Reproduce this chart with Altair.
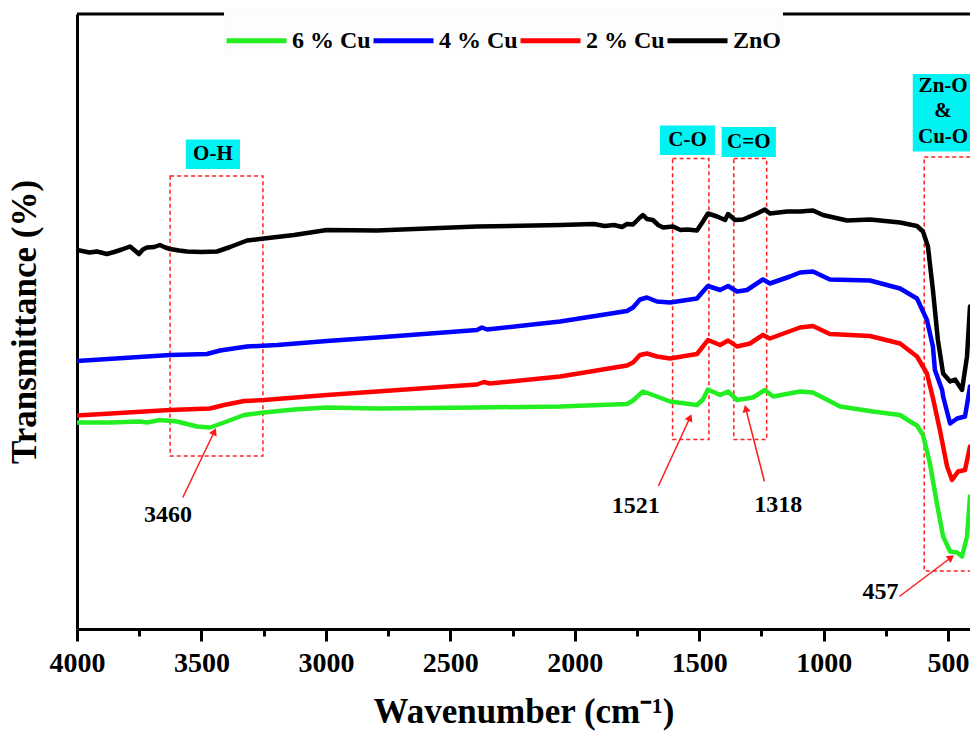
import altair as alt
import pandas as pd

SERIES = ["6 % Cu", "4 % Cu", "2 % Cu", "ZnO"]
COLORS = ["#22ee22", "#0000ff", "#ff0000", "#000000"]

# (wavenumber cm-1, transmittance a.u.)
zno = [(4000, 75.8), (3950, 75.3), (3920, 75.5), (3880, 75.0), (3851, 75.4), (3820, 75.9),
       (3787, 76.5), (3765, 75.6), (3751, 75.0), (3735, 75.9), (3719, 76.3), (3690, 76.4),
       (3667, 76.8), (3645, 76.3), (3626, 76.0), (3590, 75.7), (3558, 75.5), (3500, 75.4),
       (3437, 75.5), (3385, 76.4), (3317, 77.7), (3249, 78.1), (3128, 78.8), (2996, 79.8),
       (2795, 79.7), (2393, 80.5), (2059, 80.8), (1923, 81.0), (1880, 80.6), (1842, 80.8),
       (1810, 80.4), (1790, 81.0), (1766, 80.9), (1740, 82.2), (1726, 82.8), (1710, 82.0),
       (1686, 81.8), (1665, 80.8), (1645, 80.3), (1605, 80.5), (1575, 79.8), (1549, 79.9),
       (1509, 79.7), (1485, 81.5), (1465, 83.1), (1428, 82.5), (1396, 81.8), (1384, 83.0),
       (1356, 81.8), (1324, 81.9), (1268, 83.1), (1236, 83.9), (1216, 83.1), (1147, 83.5),
       (1095, 83.5), (1043, 83.7), (1003, 82.8), (906, 81.7), (814, 81.9), (693, 81.3),
       (625, 80.6), (601, 79.5), (581, 76.5), (561, 67.8), (541, 57.8), (520, 51.1),
       (492, 49.5), (472, 49.9), (444, 47.8), (424, 54.5), (412, 64.5)]

cu4 = [(4000, 53.6), (3626, 54.8), (3478, 55.0), (3425, 55.7), (3317, 56.5), (3196, 56.8),
       (2996, 57.6), (2795, 58.3), (2393, 59.8), (2373, 60.3), (2353, 59.9), (2059, 61.5),
       (1790, 63.6), (1766, 64.3), (1738, 65.9), (1710, 66.3), (1670, 65.5), (1617, 65.3),
       (1509, 66.1), (1485, 67.5), (1465, 68.6), (1416, 67.8), (1384, 68.6), (1348, 67.5),
       (1308, 67.8), (1244, 69.9), (1216, 69.1), (1135, 70.5), (1095, 71.3), (1043, 71.5),
       (975, 69.9), (814, 69.7), (693, 68.1), (625, 66.1), (585, 61.8), (561, 56.5),
       (553, 51.8), (524, 47.8), (520, 46.5), (492, 41.1), (464, 42.1), (432, 42.5),
       (412, 48.5)]

cu2 = [(4000, 42.7), (3626, 43.8), (3466, 44.1), (3409, 44.8), (3329, 45.6), (3249, 45.8),
       (2996, 46.8), (2795, 47.5), (2393, 48.9), (2365, 49.4), (2341, 49.1), (2059, 50.5),
       (1790, 52.7), (1766, 53.3), (1738, 54.8), (1710, 55.1), (1670, 54.5), (1617, 54.1),
       (1509, 55.0), (1485, 56.5), (1465, 57.8), (1416, 56.8), (1384, 57.7), (1348, 56.5),
       (1296, 57.1), (1244, 58.8), (1216, 58.1), (1095, 60.3), (1043, 60.6), (975, 59.0),
       (814, 58.6), (693, 57.1), (625, 54.5), (585, 51.1), (561, 46.2), (533, 39.8),
       (504, 32.5), (484, 29.8), (460, 31.5), (432, 31.8), (412, 36.5)]

cu6 = [(4000, 41.3), (3867, 41.3), (3747, 41.5), (3719, 41.3), (3667, 41.8), (3598, 41.5),
       (3518, 40.5), (3466, 40.3), (3409, 41.3), (3329, 42.8), (3249, 43.3), (3128, 43.9),
       (2996, 44.3), (2795, 44.1), (2393, 44.3), (2059, 44.5), (1790, 45.0), (1766, 45.7),
       (1726, 47.5), (1686, 46.8), (1617, 45.5), (1509, 44.8), (1485, 45.9), (1465, 47.9),
       (1416, 46.8), (1384, 47.5), (1348, 45.8), (1284, 46.3), (1236, 47.8), (1203, 46.5),
       (1095, 47.5), (1043, 47.3), (934, 44.5), (802, 43.5), (693, 42.8), (653, 41.5),
       (625, 40.7), (601, 38.8), (573, 33.1), (545, 25.1), (520, 18.5), (492, 15.5),
       (464, 15.3), (444, 14.5), (424, 18.5), (412, 26.5)]

# dashed regions: (x1, x2, y1, y2)
regions = [(3626, 3253, 90.6, 34.6), (1607, 1461, 94.1, 37.9),
           (1361, 1229, 94.1, 37.9), (596, 390, 94.4, 11.6)]
# cyan label boxes: (x1, x2, y1, y2)
label_boxes = [(3563, 3345, 97.9, 92.0), (1658, 1437, 100.7, 94.8),
               (1410, 1192, 100.4, 94.4), (642, 390, 111.0, 95.5)]
label_texts = [("O-H", 3454, 95.0), ("C-O", 1547, 97.8), ("C=O", 1301, 97.4),
               ("Zn-O", 520, 108.6), ("&", 520, 103.6), ("Cu-O", 520, 98.4)]
# arrows: tail x, tail y, tip x, tip y, head angle
arrows = [(3575, 26.3, 3448, 39.5, 25.6), (1664, 28.6, 1537, 42.3, 24.8),
          (1238, 29.5, 1313, 44.1, 345.8), (696, 6.5, 488, 14.3, 52.7)]
peak_labels = [("3460", 3634, 22.9), ("1521", 1755, 24.6), ("1318", 1182, 24.8), ("457", 772, 7.5)]

X_MIN, X_MAX = 412, 4000
Y_MAX = 123
FONT = "Liberation Serif"

rows = []
for name, data in zip(SERIES, [cu6, cu4, cu2, zno]):
    for w, t in data:
        rows.append({"wn": w, "T": t, "sample": name})
df = pd.DataFrame(rows)

xscale = alt.Scale(domain=[X_MAX, X_MIN], nice=False, zero=False)
yscale = alt.Scale(domain=[0, Y_MAX], nice=False, zero=False)

xaxis = alt.Axis(
    values=list(range(4000, 499, -250)), format="d",
    labelExpr="datum.value % 500 === 0 ? datum.label : ''",
    tickSize={"condition": {"test": "datum.value % 500 === 0", "value": 12}, "value": 7},
    tickWidth=3, tickColor="black", domainWidth=3, domainColor="black",
    labelFont=FONT, labelFontSize=28, labelFontWeight="bold", labelColor="black",
    labelPadding=8, labelFlush=False, labelOverlap=False,
    title="Wavenumber (cm⁻¹)", titleFont=FONT, titleFontSize=35, titleFontWeight="bold",
    titleColor="black", titlePadding=17, grid=False)
yaxis = alt.Axis(
    ticks=False, labels=False, domainWidth=3, domainColor="black", grid=False,
    title="Transmittance (%)", titleFont=FONT, titleFontSize=35, titleFontWeight="bold",
    titleColor="black", titlePadding=35)

lines = alt.Chart(df).mark_line(strokeWidth=4.5, strokeJoin="round", strokeCap="round", clip=True).encode(
    x=alt.X("wn:Q", scale=xscale, axis=xaxis),
    y=alt.Y("T:Q", scale=yscale, axis=yaxis),
    color=alt.Color("sample:N", scale=alt.Scale(domain=SERIES, range=COLORS), sort=SERIES,
                    legend=alt.Legend(title=None, orient="none", legendX=147, legendY=-6,
                                      direction="horizontal", columns=4, columnPadding=-16,
                                      symbolType="stroke", symbolSize=3600, symbolStrokeWidth=5,
                                      labelFont=FONT, labelFontSize=24, labelFontWeight="bold",
                                      labelColor="black", labelOffset=3, padding=0,
                                      fillColor="#fdfdfd", strokeColor="#fafafa")),
    detail="sample:N",
)

reg_df = pd.DataFrame(regions, columns=["x1", "x2", "y1", "y2"])
reg = alt.Chart(reg_df).mark_rect(filled=False, stroke="#ff2020", strokeWidth=1.5,
                                  strokeDash=[4, 3], clip=True).encode(
    x=alt.X("x1:Q", scale=xscale), x2="x2:Q", y=alt.Y("y1:Q", scale=yscale), y2="y2:Q")

lb_df = pd.DataFrame(label_boxes, columns=["x1", "x2", "y1", "y2"])
lbox = alt.Chart(lb_df).mark_rect(color="#00f2f2", clip=True).encode(
    x=alt.X("x1:Q", scale=xscale), x2="x2:Q", y=alt.Y("y1:Q", scale=yscale), y2="y2:Q")

lt_df = pd.DataFrame(label_texts, columns=["text", "x", "y"])
ltext = alt.Chart(lt_df).mark_text(font=FONT, fontSize=21, fontWeight="bold", color="black",
                                   baseline="middle", align="center").encode(
    x=alt.X("x:Q", scale=xscale), y=alt.Y("y:Q", scale=yscale), text="text:N")

ar_df = pd.DataFrame(arrows, columns=["x1", "y1", "x2", "y2", "angle"])
arule = alt.Chart(ar_df).mark_rule(color="#ff1a1a", strokeWidth=1.5).encode(
    x=alt.X("x1:Q", scale=xscale), y=alt.Y("y1:Q", scale=yscale), x2="x2:Q", y2="y2:Q")
ahead = alt.Chart(ar_df).mark_point(shape="triangle-up", filled=True, color="#ff1a1a",
                                    size=70, opacity=1).encode(
    x=alt.X("x2:Q", scale=xscale), y=alt.Y("y2:Q", scale=yscale),
    angle=alt.Angle("angle:Q", scale=None))

pk_df = pd.DataFrame(peak_labels, columns=["text", "x", "y"])
ptext = alt.Chart(pk_df).mark_text(font=FONT, fontSize=24, fontWeight="bold", color="black",
                                   baseline="middle", align="center").encode(
    x=alt.X("x:Q", scale=xscale), y=alt.Y("y:Q", scale=yscale), text="text:N")

frame_df = pd.DataFrame({"x1": [X_MAX], "x2": [X_MIN], "y": [Y_MAX]})
top = alt.Chart(frame_df).mark_rule(color="black", strokeWidth=3).encode(
    x=alt.X("x1:Q", scale=xscale), x2="x2:Q", y=alt.Y("y:Q", scale=yscale))

chart = alt.layer(reg, lbox, ltext, arule, ahead, ptext, lines, top).properties(
    width=893, height=615, autosize="none",
    padding={"left": 77, "top": 14, "right": 0, "bottom": 104},
    background="white",
).configure_view(stroke=None)

chart.save("out.html", embed_options={"renderer": "svg", "actions": False})
